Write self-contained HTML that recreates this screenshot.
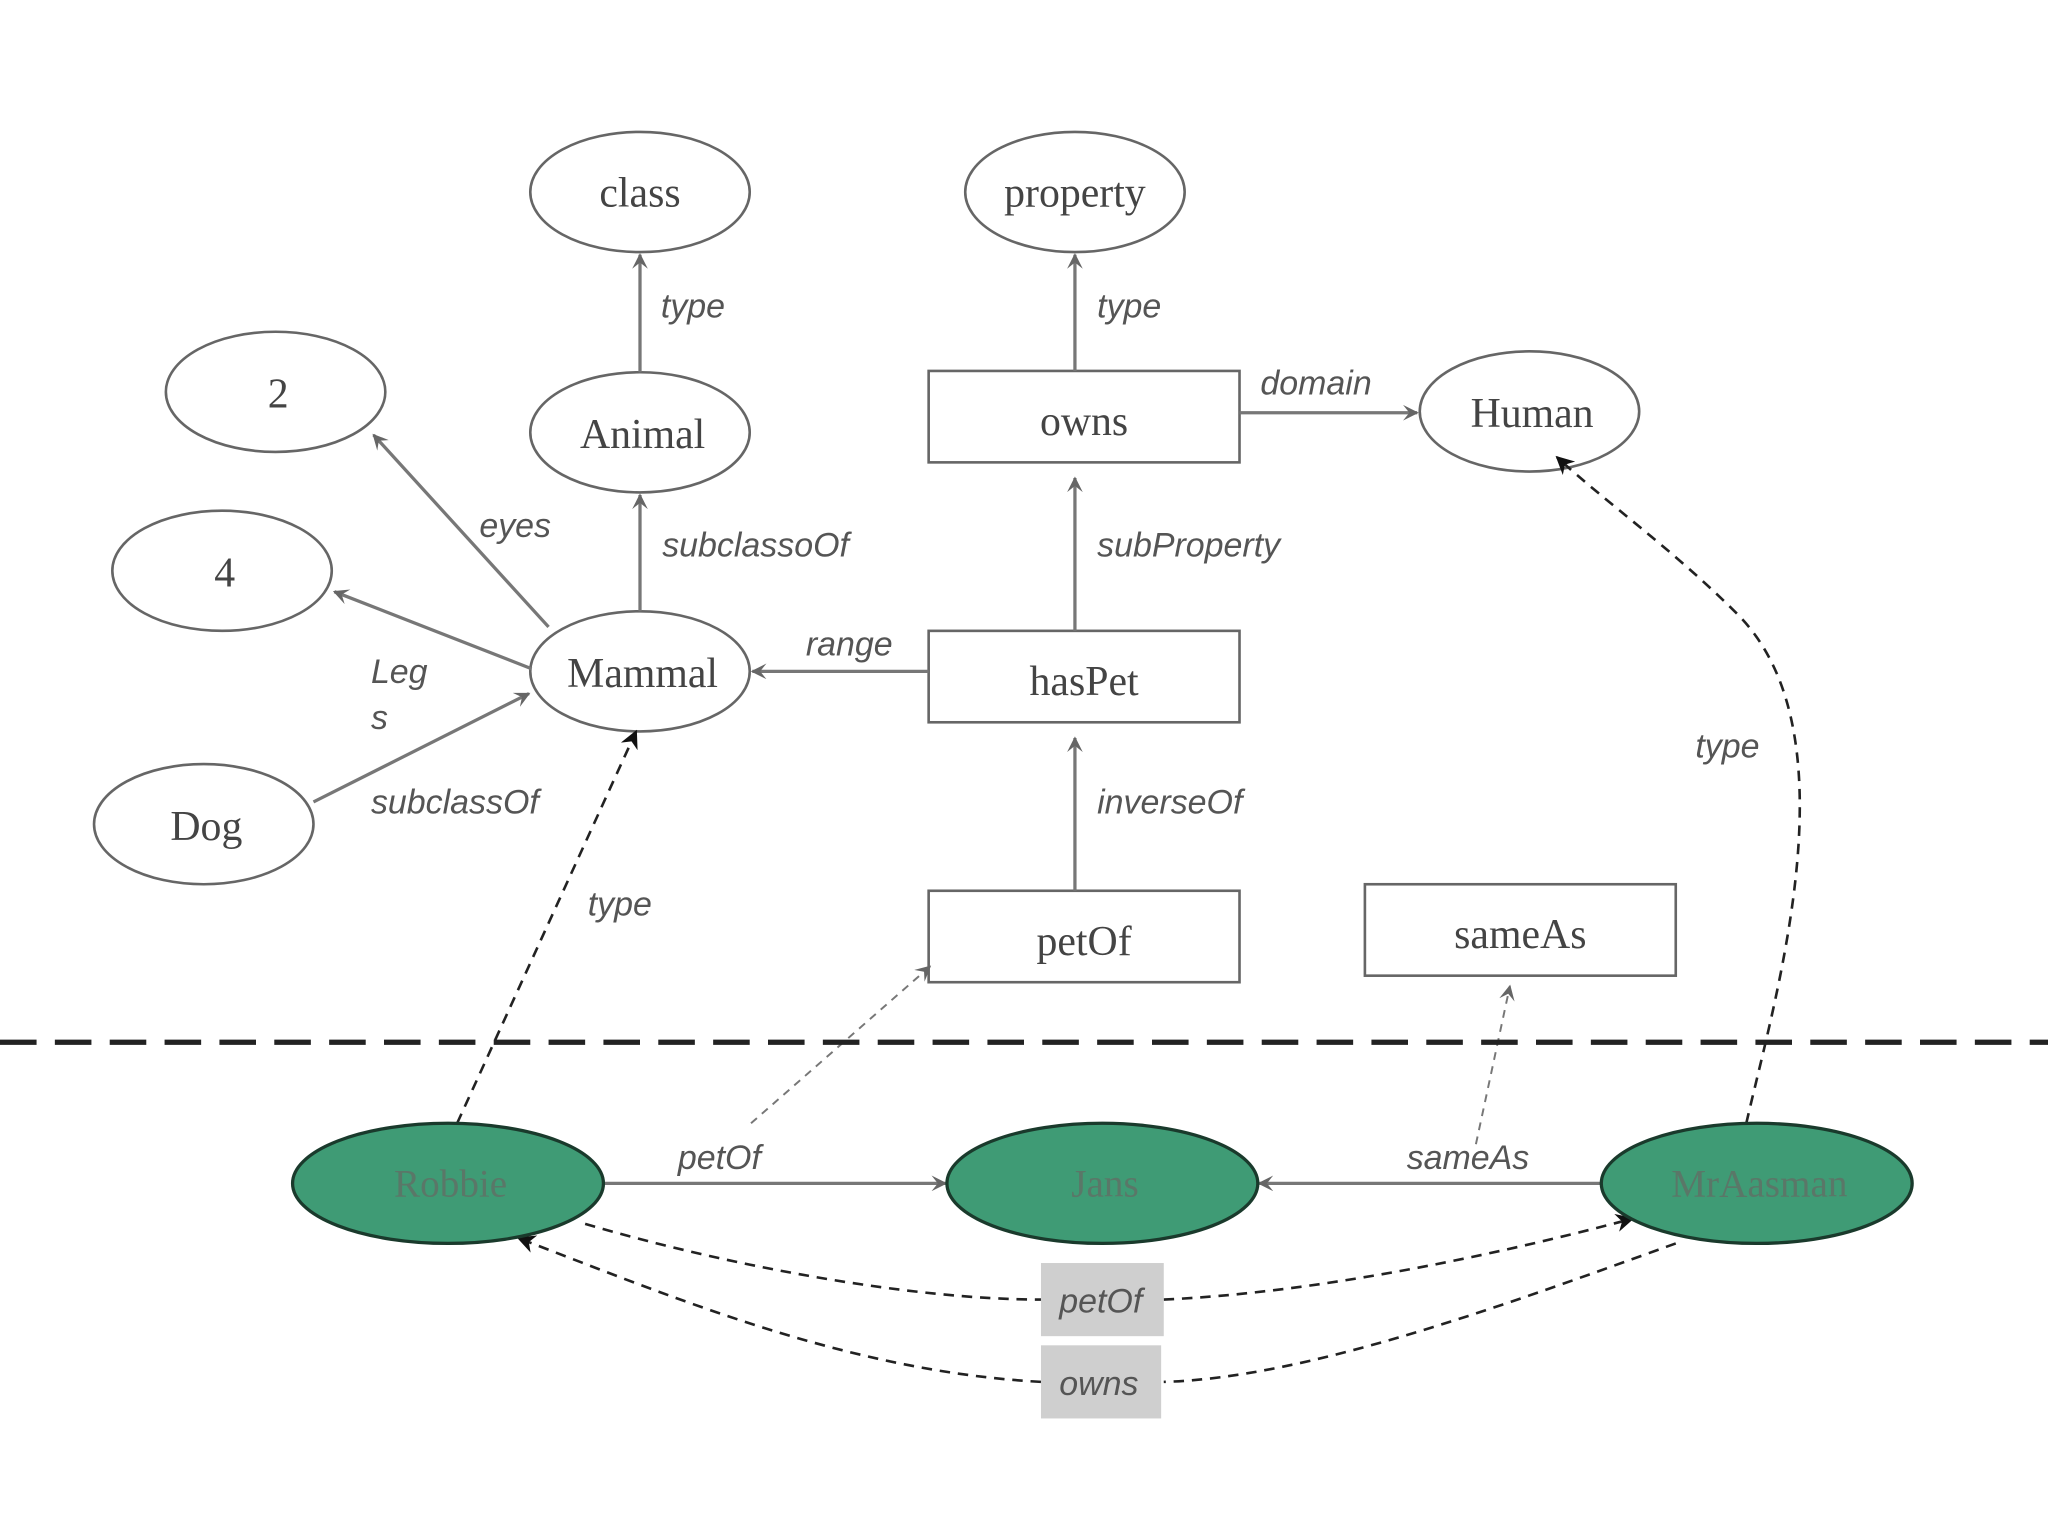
<!DOCTYPE html>
<html><head><meta charset="utf-8"><style>
html,body{margin:0;padding:0;background:#fff;}
svg{display:block;}
.n{font-family:"Liberation Serif",serif;font-size:32px;fill:#444;text-anchor:middle;}
.l{font-family:"Liberation Sans",sans-serif;font-style:italic;font-size:26px;fill:#555;}
</style></head><body>
<svg width="2048" height="1536" viewBox="0 0 1568 1176" xmlns="http://www.w3.org/2000/svg">
<defs>
<marker id="a" viewBox="0 0 10 10" refX="9" refY="5" markerWidth="12" markerHeight="12" orient="auto-start-reverse" markerUnits="userSpaceOnUse"><path d="M0,0 L10,5 L0,10 L4,5z" fill="#666"/></marker>
<marker id="b" viewBox="0 0 10 10" refX="9" refY="5" markerWidth="14" markerHeight="14" orient="auto" markerUnits="userSpaceOnUse"><path d="M0,0 L10,5 L0,10 L3,5z" fill="#111"/></marker>
</defs>
<g fill="#fff" stroke="#666" stroke-width="2">
<ellipse cx="490" cy="147" rx="84" ry="46"/>
<ellipse cx="823" cy="147" rx="84" ry="46"/>
<ellipse cx="211" cy="300" rx="84" ry="46"/>
<ellipse cx="490" cy="331" rx="84" ry="46"/>
<ellipse cx="1171" cy="315" rx="84" ry="46"/>
<ellipse cx="170" cy="437" rx="84" ry="46"/>
<ellipse cx="490" cy="514" rx="84" ry="46"/>
<ellipse cx="156" cy="631" rx="84" ry="46"/>
<rect x="711" y="284" width="238" height="70"/>
<rect x="711" y="483" width="238" height="70"/>
<rect x="711" y="682" width="238" height="70"/>
<rect x="1045" y="677" width="238" height="70"/>
</g>
<g class="n">
<text x="490" y="158">class</text>
<text x="823" y="158">property</text>
<text x="213" y="312">2</text>
<text x="492" y="343">Animal</text>
<text x="1173" y="327">Human</text>
<text x="172" y="449">4</text>
<text x="492" y="526">Mammal</text>
<text x="158" y="643">Dog</text>
<text x="830" y="333">owns</text>
<text x="830" y="532">hasPet</text>
<text x="830" y="731">petOf</text>
<text x="1164" y="726">sameAs</text>
</g>
<g stroke="#777" stroke-width="2.5" fill="none" marker-end="url(#a)">
<line x1="490" y1="285" x2="490" y2="195"/>
<line x1="823" y1="284" x2="823" y2="195"/>
<line x1="490" y1="468" x2="490" y2="379"/>
<line x1="823" y1="483" x2="823" y2="366"/>
<line x1="823" y1="682" x2="823" y2="565"/>
<line x1="949" y1="316" x2="1085" y2="316"/>
<line x1="711" y1="514" x2="576" y2="514"/>
<line x1="420" y1="480" x2="286" y2="333"/>
<line x1="407" y1="512" x2="256" y2="453"/>
<line x1="240" y1="614" x2="405" y2="531"/>
<line x1="462" y1="906" x2="724" y2="906"/>
<line x1="1227" y1="906" x2="964" y2="906"/>
</g>
<g stroke="#777" stroke-width="1.5" fill="none" stroke-dasharray="6,5" marker-end="url(#a)">
<line x1="575" y1="860" x2="712" y2="740"/>
<line x1="1130" y1="876" x2="1156" y2="755"/>
</g>
<line x1="0" y1="798" x2="1568" y2="798" stroke="#222" stroke-width="4" stroke-dasharray="28,14"/>
<g stroke="#222" stroke-width="2" fill="none" stroke-dasharray="8,6">
<line x1="350" y1="860" x2="487" y2="560" marker-end="url(#b)"/>
<path d="M1337,860 C1360,760 1420,560 1330,470 C1280,420 1230,385 1192,350" marker-end="url(#b)"/>
<path d="M448,937 C560,970 700,995 797,995"/>
<path d="M891,995 C1000,990 1130,965 1250,933" marker-end="url(#b)"/>
<path d="M1283,952 C1150,1000 1000,1055 891,1058"/>
<path d="M797,1058 C650,1050 520,995 397,948" marker-end="url(#b)"/>
</g>
<g fill="#3f9b75" stroke="#1a3a2c" stroke-width="2.5">
<ellipse cx="343" cy="906" rx="119" ry="46"/>
<ellipse cx="844" cy="906" rx="119" ry="46"/>
<ellipse cx="1345" cy="906" rx="119" ry="46"/>
</g>
<g class="n" style="fill:#5a7768;font-size:30px">
<text x="345" y="916">Robbie</text>
<text x="846" y="916">Jans</text>
<text x="1347" y="916">MrAasman</text>
</g>
<rect x="797" y="967" width="94" height="56" fill="#cfcfcf"/>
<rect x="797" y="1030" width="92" height="56" fill="#cfcfcf"/>
<g class="l">
<text x="506" y="243">type</text>
<text x="840" y="243">type</text>
<text x="965" y="302">domain</text>
<text x="367" y="411">eyes</text>
<text x="507" y="426">subclassoOf</text>
<text x="840" y="426">subProperty</text>
<text x="617" y="502">range</text>
<text x="284" y="523">Leg</text>
<text x="284" y="558">s</text>
<text x="284" y="623">subclassOf</text>
<text x="840" y="623">inverseOf</text>
<text x="1298" y="580">type</text>
<text x="450" y="701">type</text>
<text x="519" y="895">petOf</text>
<text x="1077" y="895">sameAs</text>
<text x="811" y="1005">petOf</text>
<text x="811" y="1068">owns</text>
</g>
</svg>
</body></html>
